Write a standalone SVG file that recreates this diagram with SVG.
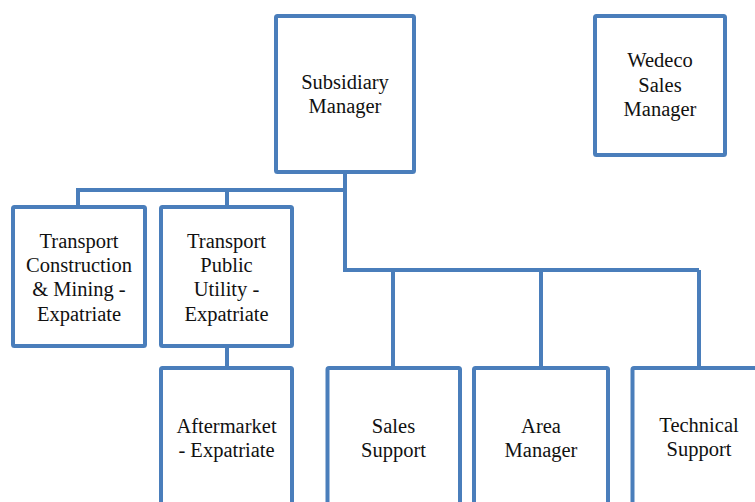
<svg xmlns="http://www.w3.org/2000/svg" width="755" height="502" viewBox="0 0 755 502">
<style>
.box{fill:#fff;stroke:#4a7ebb;stroke-width:4;}
.ln{fill:none;stroke:#4a7ebb;stroke-width:4;}
text{font-family:'Liberation Serif','DejaVu Serif',serif;font-size:20.5px;fill:#111;text-anchor:middle;}
</style>
<rect width="755" height="502" fill="#fff"/>
<g id="connectors">
<path class="ln" d="M345 172 V190 M78 207 V190 H345 M227 207 V190"/>
<path class="ln" d="M345 190 V270 H699 M393 270 V368 M541 270 V368 M699 270 V368"/>
<path class="ln" d="M227 346 V368"/>
</g>
<g id="subsidiary-manager">
<rect class="box" x="276" y="16" width="138" height="156" rx="1.5"/>
<text x="345" y="89">Subsidiary</text>
<text x="345" y="113">Manager</text>
</g>
<g id="wedeco-sales-manager">
<rect class="box" x="595" y="16" width="130" height="139" rx="1.5"/>
<text x="660" y="67">Wedeco</text>
<text x="660" y="91.5">Sales</text>
<text x="660" y="116">Manager</text>
</g>
<g id="transport-construction">
<rect class="box" x="13" y="207" width="132" height="139" rx="1.5"/>
<text x="79" y="247.5">Transport</text>
<text x="79" y="272">Construction</text>
<text x="79" y="296">&amp; Mining -</text>
<text x="79" y="320.5">Expatriate</text>
</g>
<g id="transport-public-utility">
<rect class="box" x="161" y="207" width="131" height="139" rx="1.5"/>
<text x="226.5" y="247.5">Transport</text>
<text x="226.5" y="272">Public</text>
<text x="226.5" y="296">Utility -</text>
<text x="226.5" y="320.5">Expatriate</text>
</g>
<g id="aftermarket">
<rect class="box" x="161" y="368" width="131" height="150" rx="1.5"/>
<text x="226.5" y="432.5">Aftermarket</text>
<text x="226.5" y="456.5">- Expatriate</text>
</g>
<g id="sales-support">
<rect class="box" x="327.5" y="368" width="132.5" height="150" rx="1.5"/>
<text x="393.5" y="432.5">Sales</text>
<text x="393.5" y="456.5">Support</text>
</g>
<g id="area-manager">
<rect class="box" x="474" y="368" width="134" height="150" rx="1.5"/>
<text x="541" y="432.5">Area</text>
<text x="541" y="456.5">Manager</text>
</g>
<g id="technical-support">
<rect class="box" x="632.5" y="368" width="134" height="150" rx="1.5"/>
<text x="699" y="432">Technical</text>
<text x="699" y="456">Support</text>
</g>
</svg>
